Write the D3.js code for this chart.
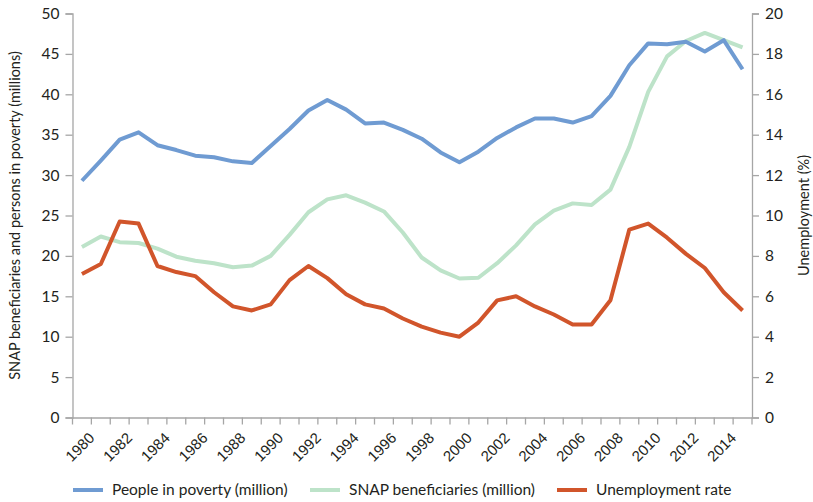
<!DOCTYPE html>
<html><head><meta charset="utf-8">
<script src="https://cdn.jsdelivr.net/npm/d3@7"></script>
<style>
body{margin:0;background:#fff;}
svg{font-family:Lato, "Open Sans", sans-serif;}
</style></head>
<body><svg id="c" width="813" height="502"></svg>
<script>
const years = d3.range(1980, 2016);
const poverty = [29.3,31.8,34.4,35.3,33.7,33.1,32.4,32.2,31.7,31.5,33.6,35.7,38.0,39.3,38.1,36.4,36.5,35.6,34.5,32.8,31.6,32.9,34.6,35.9,37.0,37.0,36.5,37.3,39.8,43.6,46.3,46.2,46.5,45.3,46.7,43.1];
const snap = [21.1,22.4,21.7,21.6,20.9,19.9,19.4,19.1,18.6,18.8,20.0,22.6,25.4,27.0,27.5,26.6,25.5,22.9,19.8,18.2,17.2,17.3,19.1,21.3,23.9,25.6,26.5,26.3,28.2,33.5,40.3,44.7,46.6,47.6,46.7,45.8];
const unemployment = [7.1,7.6,9.7,9.6,7.5,7.2,7.0,6.2,5.5,5.3,5.6,6.8,7.5,6.9,6.1,5.6,5.4,4.9,4.5,4.2,4.0,4.7,5.8,6.0,5.5,5.1,4.6,4.6,5.8,9.3,9.6,8.9,8.1,7.4,6.2,5.3];
const leftTicks = [0,5,10,15,20,25,30,35,40,45,50];
const rightTicks = [0,2,4,6,8,10,12,14,16,18,20];
const seriesNames = ["People in poverty (million)","SNAP beneficiaries (million)","Unemployment rate"];
const colors = ["#6f9bd2","#bde3c9","#d1552b"];

const svg = d3.select("#c");
const L = 72.5, R = 752, T = 13.5, B = 417.5;
const x = d3.scaleBand().domain(years).range([L, R]);
const yL = d3.scaleLinear().domain([0,50]).range([B, T]);
const yR = d3.scaleLinear().domain([0,20]).range([B, T]);
const axisColor = "#a6a6a6";
const textColor = "#231f20";

const gl = svg.append("g").attr("transform",`translate(${L},0)`)
  .call(d3.axisLeft(yL).tickValues(leftTicks).tickSize(7).tickPadding(6));
const gr = svg.append("g").attr("transform",`translate(${R},0)`)
  .call(d3.axisRight(yR).tickValues(rightTicks).tickSize(7).tickPadding(6));
const gx = svg.append("g").attr("transform",`translate(0,${B})`)
  .call(d3.axisBottom(x).tickSize(0).tickFormat(""));
gx.selectAll(".bt").data(d3.range(years.length+1)).enter().append("line")
  .attr("x1", i => L + i*x.step()).attr("x2", i => L + i*x.step())
  .attr("y1",0).attr("y2",7).attr("stroke",axisColor).attr("stroke-width",1.3);
gx.selectAll(".lbl").data(years.filter(y => y%2===0)).enter().append("text")
  .attr("transform", d => `translate(${x(d)+x.bandwidth()/2+6},${14}) rotate(-45)`)
  .attr("text-anchor","end").attr("dy","0.7em")
  .attr("font-size",15).attr("fill",textColor).text(d => d);

[gl,gr,gx].forEach(g => {
  g.selectAll(".domain").attr("stroke",axisColor).attr("stroke-width",1.3);
  g.selectAll(".tick line").attr("stroke",axisColor).attr("stroke-width",1.3);
  g.selectAll(".tick text").attr("font-size",15.5).attr("fill",textColor).attr("font-family","Lato, sans-serif");
});

svg.append("text").attr("transform",`translate(20,${(T+B)/2}) rotate(-90)`)
  .attr("text-anchor","middle").attr("font-size",14.5).attr("fill",textColor)
  .text("SNAP beneficiaries and persons in poverty (millions)");
svg.append("text").attr("transform",`translate(809,${(T+B)/2}) rotate(-90)`)
  .attr("text-anchor","middle").attr("font-size",14.5).attr("fill",textColor)
  .text("Unemployment (%)");

const cx = d => x(d) + x.bandwidth()/2;
const data = [
  {vals: poverty, scale: yL},
  {vals: snap, scale: yL},
  {vals: unemployment, scale: yR}
];
[1,0,2].forEach(i => {
  const s = data[i];
  const line = d3.line().x((d,j) => cx(years[j])).y(d => s.scale(d));
  svg.append("path").datum(s.vals).attr("d", line)
    .attr("fill","none").attr("stroke",colors[i]).attr("stroke-width",4)
    .attr("stroke-linejoin","round");
});

const legX = [73, 310, 557];
const lg = svg.append("g").attr("transform","translate(0,490)");
seriesNames.forEach((n,i) => {
  lg.append("line").attr("x1",legX[i]).attr("x2",legX[i]+30).attr("y1",0).attr("y2",0)
    .attr("stroke",colors[i]).attr("stroke-width",4);
  lg.append("text").attr("x",legX[i]+39).attr("y",0).attr("dy","0.35em")
    .attr("font-size",15.5).attr("fill",textColor).text(n);
});
</script></body></html>
